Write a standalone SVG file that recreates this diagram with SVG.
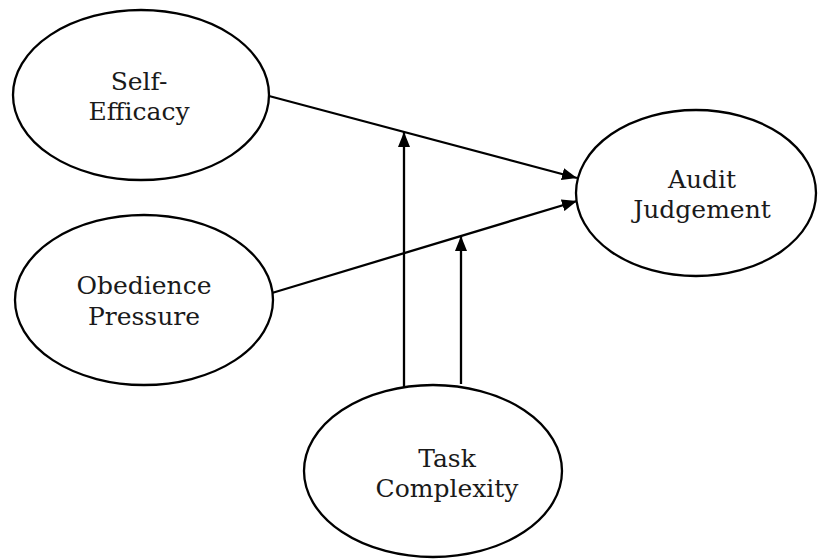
<svg xmlns="http://www.w3.org/2000/svg" width="820" height="559" viewBox="0 0 820 559">
<style>
.node ellipse{fill:#fff;stroke:#000;stroke-width:2.3}
.node text{font-family:"DejaVu Serif","Liberation Serif",serif;font-size:25px;fill:#1a1a1a;text-anchor:middle}
.conn line{stroke:#000;stroke-width:2.3;fill:none}
</style>
<defs>
<marker id="ah" viewBox="0 0 15 12" refX="15" refY="6" markerWidth="15" markerHeight="12" markerUnits="userSpaceOnUse" orient="auto">
<path d="M0,0 L15,6 L0,12 Z" fill="#000"/>
</marker>
</defs>
<rect width="820" height="559" fill="#fff"/>
<g class="conn">
<line x1="269" y1="96" x2="577" y2="178" marker-end="url(#ah)"/>
<line x1="272" y1="293" x2="577" y2="201" marker-end="url(#ah)"/>
<line x1="404" y1="388" x2="404" y2="132" marker-end="url(#ah)"/>
<line x1="461" y1="384" x2="461" y2="236" marker-end="url(#ah)"/>
</g>
<g id="self-efficacy" class="node">
<ellipse cx="141" cy="95" rx="128" ry="85"/>
<text x="139" y="90">Self-</text>
<text x="139" y="120">Efficacy</text>
</g>
<g id="obedience-pressure" class="node">
<ellipse cx="144" cy="300" rx="129" ry="85"/>
<text x="144" y="294">Obedience</text>
<text x="144" y="325">Pressure</text>
</g>
<g id="audit-judgement" class="node">
<ellipse cx="696" cy="193" rx="120" ry="83"/>
<text x="702" y="188">Audit</text>
<text x="702" y="218">Judgement</text>
</g>
<g id="task-complexity" class="node">
<ellipse cx="433" cy="471" rx="129" ry="86"/>
<text x="447" y="467">Task</text>
<text x="447" y="497">Complexity</text>
</g>
</svg>
